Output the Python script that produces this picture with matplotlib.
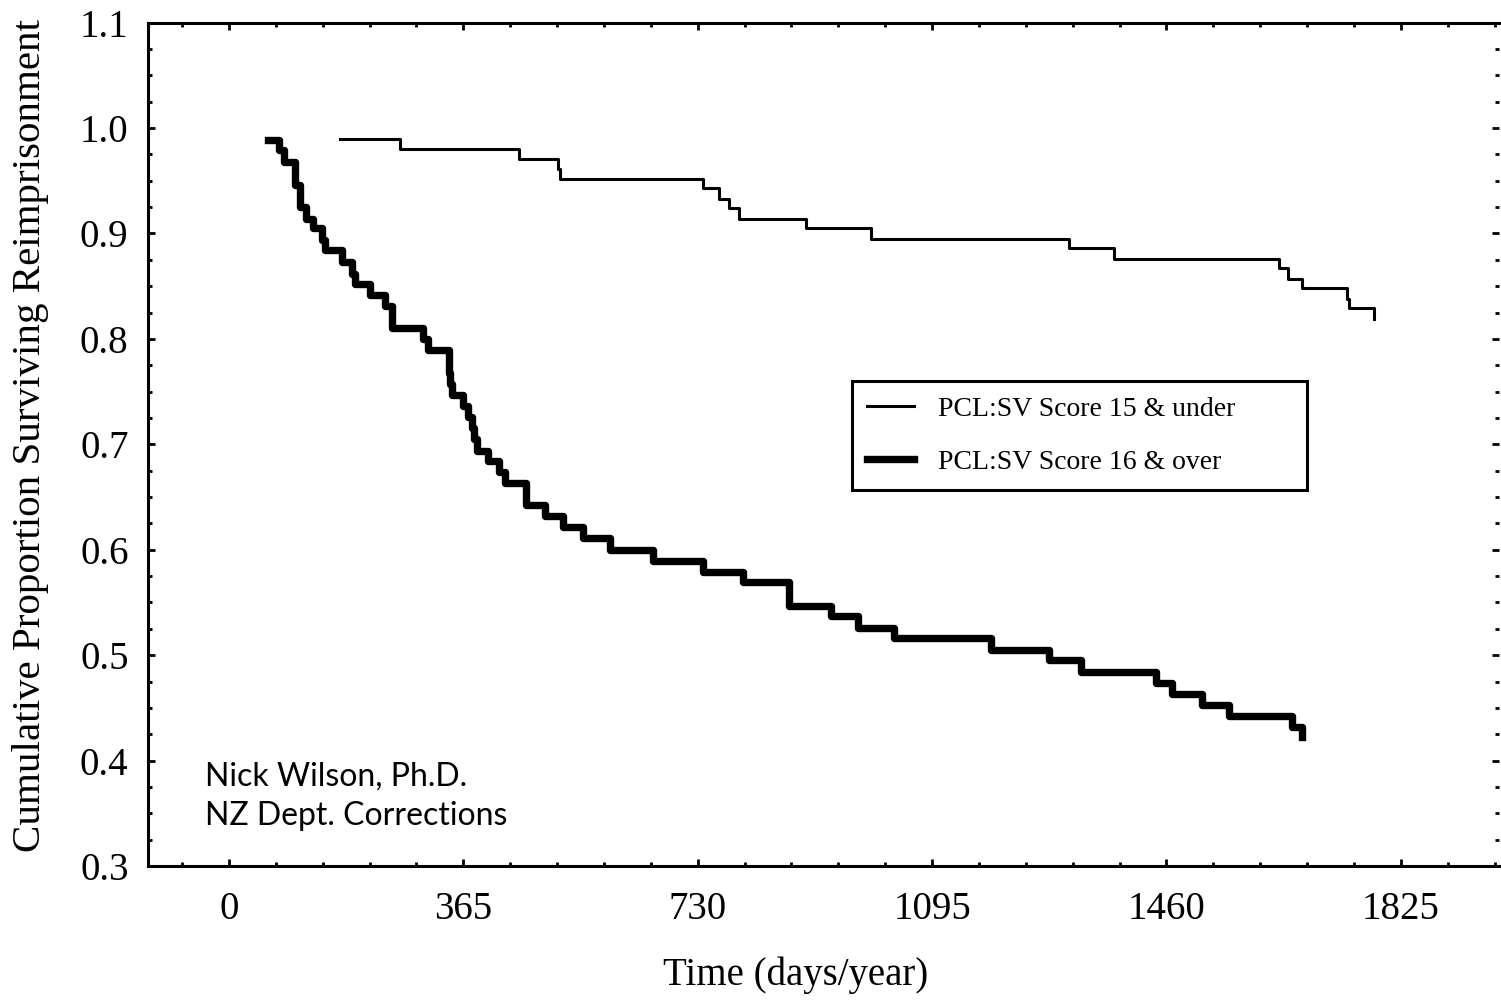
import matplotlib
matplotlib.use('Agg')
import matplotlib.pyplot as plt
from matplotlib.ticker import MultipleLocator, FormatStrFormatter

# Kaplan-Meier style survival steps (days since release, proportion surviving)
LOW_LABEL = "PCL:SV Score 15 & under"
LOW_T = [173, 267, 451, 512, 515, 739, 764, 779, 794, 898, 1000, 1309, 1379,
         1636, 1650, 1671, 1741, 1745, 1784]
LOW_S = [0.990, 0.980, 0.971, 0.961, 0.952, 0.943, 0.933, 0.924, 0.914, 0.905,
         0.895, 0.886, 0.876, 0.867, 0.857, 0.848, 0.838, 0.829, 0.819]

HIGH_LABEL = "PCL:SV Score 16 & over"
HIGH_T = [61, 78, 86, 103, 111, 120, 131, 145, 150, 176, 192, 197, 220, 243,
          254, 303, 310, 342, 343, 345, 348, 365, 373, 379, 382, 387, 404, 420,
          430, 462, 493, 521, 551, 594, 660, 738, 800, 872, 937, 980, 1036,
          1187, 1277, 1327, 1444, 1468, 1515, 1557, 1655, 1671]
HIGH_S = [0.989, 0.979, 0.968, 0.946, 0.925, 0.914, 0.905, 0.894, 0.884, 0.873,
          0.862, 0.852, 0.842, 0.831, 0.810, 0.800, 0.789, 0.778, 0.768, 0.757,
          0.747, 0.736, 0.726, 0.715, 0.705, 0.694, 0.684, 0.674, 0.663, 0.642,
          0.632, 0.622, 0.611, 0.600, 0.589, 0.579, 0.569, 0.547, 0.537, 0.526,
          0.516, 0.505, 0.495, 0.484, 0.474, 0.463, 0.453, 0.442, 0.432, 0.422]

X_TICKS = [0, 365, 730, 1095, 1460, 1825]

SERIF = 'Liberation Serif'

fig = plt.figure(figsize=(15.01, 10.0), dpi=100)
ax = fig.add_axes([0.0986, 0.134, 0.9001, 0.8434])

ax.step(LOW_T, LOW_S, where='post', color='black', linewidth=2.2, label=LOW_LABEL)
ax.step(HIGH_T, HIGH_S, where='post', color='black', linewidth=5.3, label=HIGH_LABEL)

ax.set_xlim(-126, 1978)
ax.set_ylim(0.3, 1.1)

ax.xaxis.set_major_locator(MultipleLocator(365))
ax.xaxis.set_minor_locator(MultipleLocator(73))
ax.set_xticks(X_TICKS)
ax.yaxis.set_major_locator(MultipleLocator(0.1))
ax.yaxis.set_minor_locator(MultipleLocator(0.025))
ax.yaxis.set_major_formatter(FormatStrFormatter('%.1f'))

ax.tick_params(which='both', direction='in', top=True, right=True, width=2, colors='black')
ax.tick_params(which='major', length=5)
ax.tick_params(which='minor', length=3)
ax.tick_params(axis='x', which='major', pad=18, labelsize=28)
ax.tick_params(axis='y', which='major', pad=14, labelsize=28)
for lab in ax.get_xticklabels() + ax.get_yticklabels():
    lab.set_fontfamily(SERIF)

for side in ['left', 'bottom', 'top']:
    ax.spines[side].set_linewidth(2.2)
ax.spines['right'].set_visible(False)

ax.set_xlabel('Time (days/year)', fontsize=28, family=SERIF, va='baseline')
ax.xaxis.set_label_coords(0.479, -0.141)
ax.set_ylabel('Cumulative Proportion Surviving Reimprisonment', fontsize=29.5,
              family=SERIF, va='center')
ax.yaxis.set_label_coords(-0.0866, 0.511)

leg = ax.legend(loc='upper left', bbox_to_anchor=(0.521, 0.575, 0.337, 0.0),
                mode='expand', borderaxespad=0, fancybox=False, edgecolor='black',
                framealpha=1, prop={'family': SERIF, 'size': 20},
                handlelength=1.7, handletextpad=0.85, labelspacing=1.0,
                borderpad=0.55)
leg.get_frame().set_linewidth(2.2)

ax.text(0.042, 0.096, 'Nick Wilson, Ph.D.', transform=ax.transAxes,
        fontsize=23, family='Lato', va='baseline')
ax.text(0.042, 0.0486, 'NZ Dept. Corrections', transform=ax.transAxes,
        fontsize=23, family='Lato', va='baseline')

fig.savefig('out.png', dpi=100)
